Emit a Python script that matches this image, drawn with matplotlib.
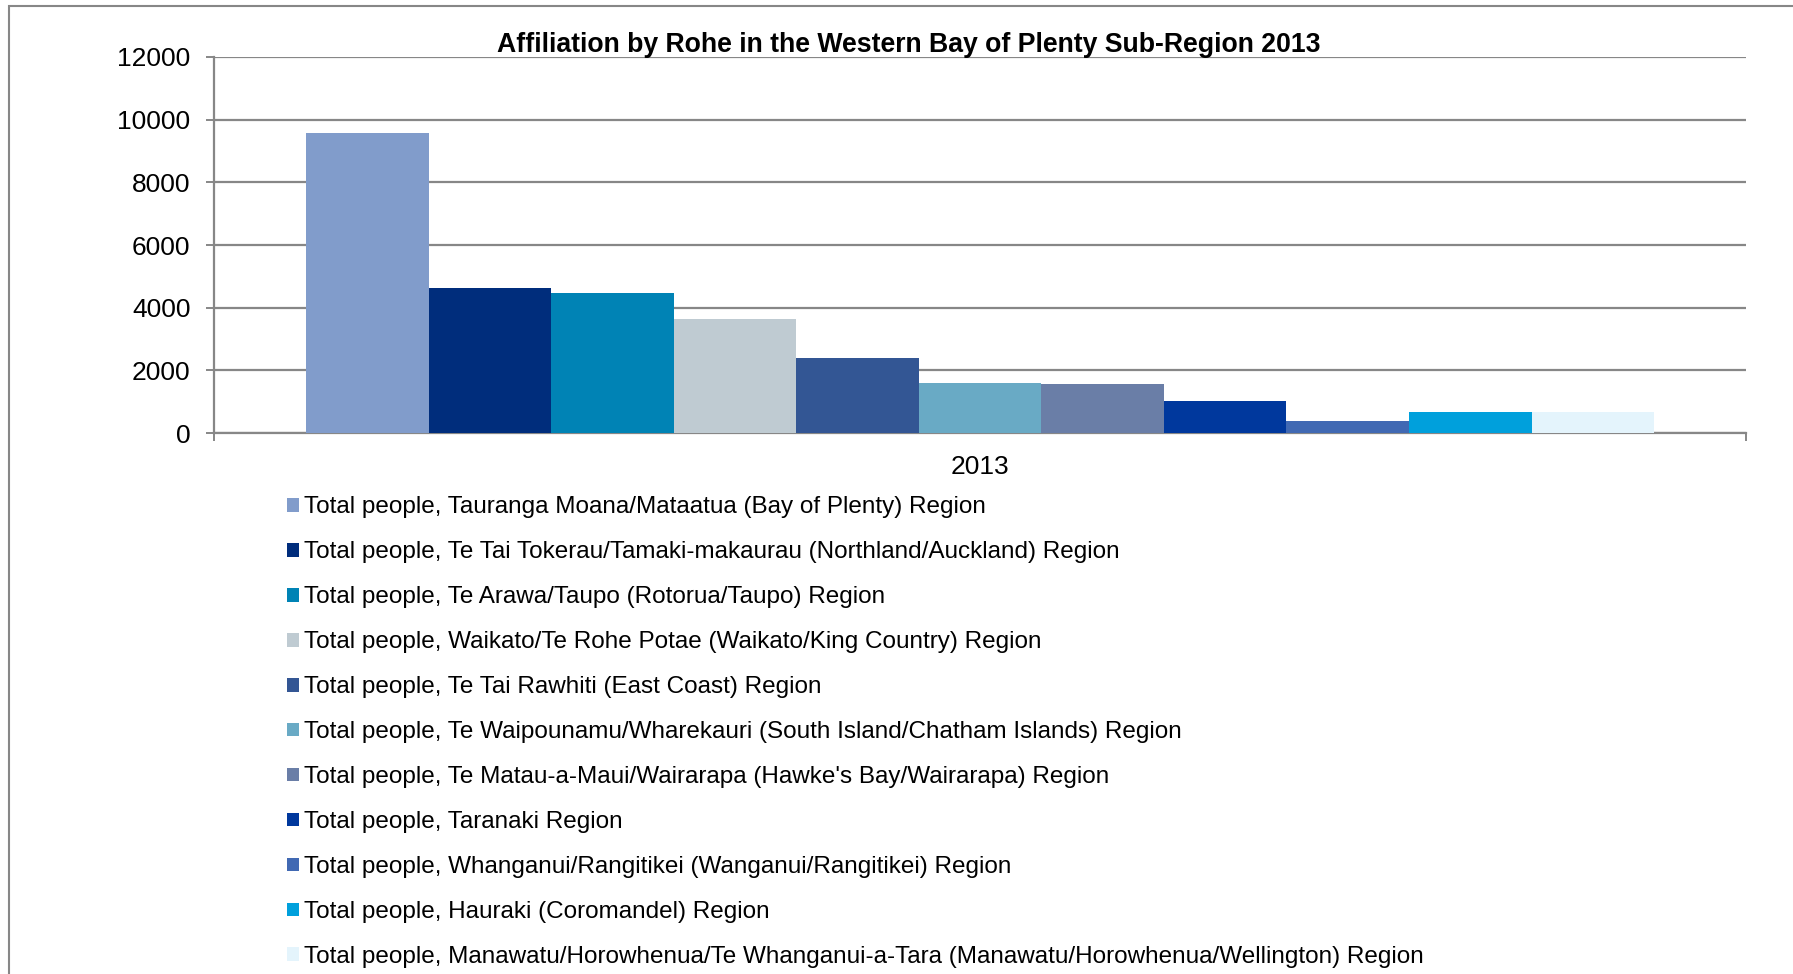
import numpy as np
import matplotlib.pyplot as plt
from matplotlib.patches import Rectangle

plt.rcParams['font.family'] = ['Liberation Sans', 'DejaVu Sans']

# data
year = "2013"
regiones = [
    "Total people, Tauranga Moana/Mataatua (Bay of Plenty) Region",
    "Total people, Te Tai Tokerau/Tamaki-makaurau (Northland/Auckland) Region",
    "Total people, Te Arawa/Taupo (Rotorua/Taupo) Region",
    "Total people, Waikato/Te Rohe Potae (Waikato/King Country) Region",
    "Total people, Te Tai Rawhiti (East Coast) Region",
    "Total people, Te Waipounamu/Wharekauri (South Island/Chatham Islands) Region",
    "Total people, Te Matau-a-Maui/Wairarapa (Hawke's Bay/Wairarapa) Region",
    "Total people, Taranaki Region",
    "Total people, Whanganui/Rangitikei (Wanganui/Rangitikei) Region",
    "Total people, Hauraki (Coromandel) Region",
    "Total people, Manawatu/Horowhenua/Te Whanganui-a-Tara (Manawatu/Horowhenua/Wellington) Region",
]
valores = [9570, 4640, 4480, 3645, 2395, 1590, 1565, 1020, 375, 665, 665]
colores = ["#819CCB", "#002D7C", "#0083B5", "#BFCBD2", "#335694", "#69AAC5",
           "#6A7EA7", "#00389D", "#4169B3", "#00A0DC", "#E4F4FC"]
yticks = [0, 2000, 4000, 6000, 8000, 10000, 12000]

gris = "#878787"

fig = plt.figure(figsize=(17.93, 9.74), dpi=100)
ax = fig.add_axes([0.1194, 0.5554, 0.8544, 0.3861])

n = len(valores)
ancho = 0.08
for i in range(n):
    ax.bar((i - (n - 1) / 2) * ancho, valores[i], width=ancho, color=colores[i],
           label=regiones[i], zorder=3)

ax.set_xlim(-0.5, 0.5)
ax.set_ylim(0, 12000)
ax.set_yticks(yticks)
ax.set_yticklabels([str(v) for v in yticks])
ax.yaxis.grid(True, color=gris, lw=1.6, zorder=0)
ax.set_axisbelow(True)

ax.set_xticks([0])
ax.set_xticklabels([year])
ax.set_xticks([-0.5, 0.5], minor=True)
ax.tick_params(axis='x', which='major', length=0, pad=16, labelsize=19)
ax.tick_params(axis='x', which='minor', length=6, width=1.4, color=gris, direction='out')
ax.tick_params(axis='y', length=6, width=1.4, color=gris, pad=11, labelsize=19)

for s in ['top', 'right']:
    ax.spines[s].set_visible(False)
for s in ['left', 'bottom']:
    ax.spines[s].set_color(gris)
    ax.spines[s].set_linewidth(1.6)

fig.text(0.5067, 0.9535, "Affiliation by Rohe in the Western Bay of Plenty Sub-Region 2013",
         ha='center', va='center', fontsize=19.2, fontweight='bold')

fig.legend(loc='upper left', bbox_to_anchor=(0.160, 0.4904), frameon=False,
           fontsize=17.5, borderpad=0, handlelength=0.5, handleheight=0.5,
           handletextpad=0.2, labelspacing=0.945, borderaxespad=0)

fig.patches.append(Rectangle((0.005, -0.5), 2, 1.4938, transform=fig.transFigure,
                             fill=False, edgecolor=gris, lw=1.5))

plt.savefig("out.png", dpi=100)
